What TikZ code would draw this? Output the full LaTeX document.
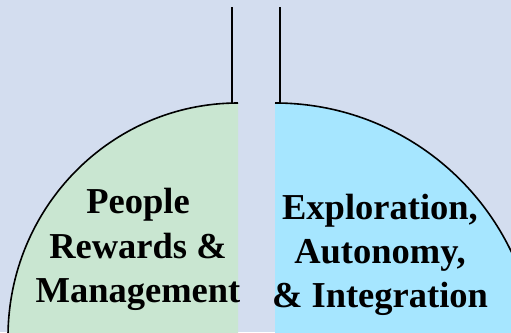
\documentclass[tikz,border=0pt]{standalone}
\usepackage{fontspec}
\setmainfont{Liberation Serif}
\definecolor{bgc}{RGB}{211,221,239}
\definecolor{greenc}{RGB}{201,230,209}
\definecolor{cyanc}{RGB}{166,230,255}
\tikzset{
  lbl/.style={anchor=base, inner sep=0pt, font=\fontsize{36.5}{42}\selectfont\bfseries},
  edge/.style={draw=black, line width=1.6pt},
}
\begin{document}
\begin{tikzpicture}[x=1pt,y=-1pt]
\useasboundingbox (0,0) rectangle (511,332);
\fill[bgc] (0,0) rectangle (511,332);
\begin{scope}
\clip (0,0) rectangle (511,332);
\fill[greenc] (238,340) -- (238,103) arc[start angle=-90, end angle=-180, x radius=230, y radius=234] -- cycle;
\draw[edge] (238,103) arc[start angle=-90, end angle=-180, x radius=230, y radius=234];
\fill[cyanc] (275,370) -- (275,103) arc[start angle=-90, end angle=0, radius=262] -- cycle;
\draw[edge] (275,103) arc[start angle=-90, end angle=0, radius=262];
\end{scope}
\coordinate (l1) at (232,7);
\coordinate (l2) at (232,104);
\coordinate (r1) at (280,7);
\coordinate (r2) at (280,104);
\draw[edge] (l1) -- (l2);
\draw[edge] (r1) -- (r2);
\node[lbl] (p1) at (138,213) {People};
\node[lbl] (p2) at (138,258) {Rewards \&};
\node[lbl] (p3) at (138,302) {Management};
\node[lbl] (e1) at (380,219) {Exploration,};
\node[lbl] (e2) at (380,263) {Autonomy,};
\node[lbl] (e3) at (380,307) {\& Integration};
\end{tikzpicture}
\end{document}
